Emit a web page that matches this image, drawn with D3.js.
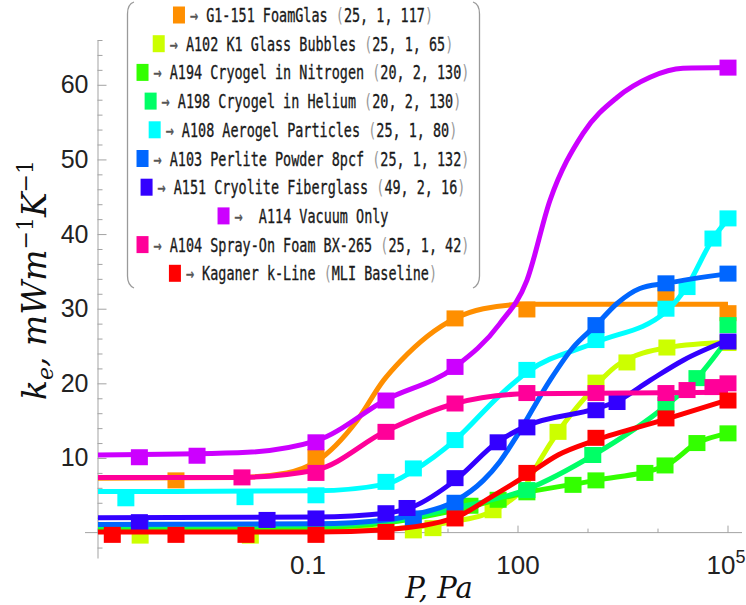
<!DOCTYPE html>
<html>
<head>
<meta charset="utf-8">
<script src="https://cdn.jsdelivr.net/npm/d3@7"></script>
<style>
body { margin: 0; background: #fff; }
</style>
</head>
<body>
<div id="chart"></div>
<script>
// series, in legend order
var colors = ["#ff8f00", "#ccff00", "#33ff00", "#00ff66", "#00ffff",
              "#0066ff", "#3300ff", "#cc00ff", "#ff0099", "#ff0000"];
var legendNames = ["G1-151 FoamGlas", "A102 K1 Glass Bubbles", "A194 Cryogel in Nitrogen",
                   "A198 Cryogel in Helium", "A108 Aerogel Particles", "A103 Perlite Powder 8pcf",
                   "A151 Cryolite Fiberglass", " A114 Vacuum Only", "A104 Spray-On Foam BX-265",
                   "Kaganer k-Line"];
var legendParams = ["25, 1, 117", "25, 1, 65", "20, 2, 130", "20, 2, 130", "25, 1, 80",
                    "25, 1, 132", "49, 2, 16", null, "25, 1, 42", "MLI Baseline"];

// measured points [P (Pa), k] and fitted curves [P, k]
var foamGlasPts = [[1.3e-3, 7.0], [0.13, 10.1], [12.6, 28.7], [134, 29.9], [1.3e4, 32.1], [1e5, 29.4]];
var foamGlasFit = [[1e-4, 7.3], [0.01, 7.4], [0.05, 8.0], [0.13, 9.5], [0.5, 15], [1.2, 20.4], [2.1, 23],
                   [12.6, 28.7], [32, 30], [134, 30.6], [1e5, 30.6]];

var bubblesPts = [[4e-4, -0.4], [0.015, -0.4], [3.2, 0.3], [6.1, 0.6], [44, 3.0], [373, 13.5],
                  [1300, 20.1], [3600, 22.8], [1.34e4, 24.8], [1e5, 25.4]];
var bubblesFit = [[1e-4, 0.3], [0.13, 0.3], [1.3, 0.5], [12.6, 1.5], [55, 3.4], [134, 6.6], [206, 9.7],
                  [373, 13.5], [968, 18.4], [2600, 22.4], [1.4e4, 24.8], [1e5, 25.5]];

var nitrogenPts = [[20.6, 3.6], [52, 4.4], [134, 5.4], [611, 6.4], [1300, 7.0], [6500, 8.0],
                   [1.26e4, 9.0], [3.6e4, 12.0], [1e5, 13.3]];
var nitrogenFit = [[1e-4, 0.5], [0.13, 0.7], [1.3, 1.3], [12.6, 3.0], [134, 5.4], [1300, 7.0],
                   [1.3e4, 9.0], [3.6e4, 12], [1e5, 13.3]];

var heliumPts = [[134, 5.7], [1170, 10.4], [1.3e4, 17.1], [3.6e4, 20.7], [1e5, 27.8]];
var heliumFit = [[1e-4, 0.9], [0.13, 1.0], [1.3, 1.5], [12.6, 3.3], [134, 5.8], [1200, 10.4],
                 [1.3e4, 17], [3.6e4, 20.7], [1e5, 26]];

var aerogelPts = [[2.5e-4, 4.6], [0.0126, 4.75], [0.13, 5.0], [1.3, 6.8], [3.2, 8.6], [12.6, 12.4],
                  [134, 21.8], [1300, 25.8], [1.3e4, 30.0], [2.6e4, 32.9], [6.1e4, 39.4], [1e5, 42.1]];
var aerogelFit = [[1e-4, 5.5], [0.13, 5.6], [1.3, 6.5], [3.2, 8.3], [12.6, 12.4], [55, 18.4], [134, 21.5],
                  [1300, 25.5], [1.3e4, 29.6], [2.6e4, 33], [6.1e4, 39.4], [1e5, 42]];

var perlitePts = [[4e-4, 1.0], [3.2, 1.9], [12.6, 4.0], [1300, 27.8], [1.3e4, 33.4], [1e5, 34.7]];
var perliteFit = [[1e-4, 1.1], [0.13, 1.2], [1.3, 1.7], [3.2, 2.4], [12.6, 4.2], [32, 7.0], [55, 9.5],
                  [97, 13], [286, 20.4], [611, 24.8], [1300, 27.8], [2600, 30.7], [5500, 32.7],
                  [1.3e4, 33.4], [1e5, 34.7]];

var fiberglassPts = [[3.9e-4, 1.4], [0.026, 1.7], [0.13, 1.9], [1.3, 2.6], [2.6, 3.3], [12.6, 7.3],
                     [52, 12.1], [134, 14.1], [1300, 16.4], [2600, 17.5], [1e5, 25.6]];
var fiberglassFit = [[1e-4, 2.0], [0.13, 2.1], [1.3, 2.6], [3.2, 3.5], [12.6, 7.0], [52, 12.2], [134, 14.3],
                     [1300, 16.6], [2600, 17.6], [7700, 20.4], [2.3e4, 23.1], [1e5, 25.8]];

var vacuumPts = [[3.9e-4, 10.1], [2.6e-3, 10.3], [0.13, 12.1], [1.3, 17.7], [12.6, 22.2], [1e5, 62.3]];
var vacuumFit = [[1e-4, 10.4], [0.01, 10.7], [0.13, 12.3], [1.3, 17.8], [12.6, 22.2], [55, 28], [134, 33.8],
                 [286, 44.5], [850, 53.5], [2600, 58.3], [7700, 61], [2.27e4, 62.2], [1e5, 62.3]];

var sprayFoamPts = [[0.0114, 7.4], [0.13, 8.0], [1.3, 13.5], [12.6, 17.3], [134, 18.7], [1300, 18.7],
                    [1.3e4, 18.7], [2.6e4, 19.1], [6.1e4, 19.5], [1e5, 20.0]];
var sprayFoamFit = [[1e-4, 7.4], [0.01, 7.4], [0.13, 8.4], [1.3, 13.6], [12.6, 17.3], [134, 18.6], [1e5, 18.8]];

var kaganerPts = [[1.6e-4, -0.3], [1.3e-3, -0.3], [0.013, -0.3], [0.13, -0.3], [1.3, 0.1], [12.6, 1.9],
                  [134, 8.0], [1300, 12.7], [1.3e4, 15.3], [1e5, 17.7]];
var kaganerFit = [[1e-4, 0.1], [0.13, 0.1], [1.3, 0.4], [12.6, 2.0], [40, 4.7], [134, 7.7], [373, 10.4],
                  [1300, 12.4], [1.3e4, 15.2], [1e5, 17.8]];

var yTicks = d3.range(-2, 67, 2);
var xTicks = [1e-4, 1e-3, 1e-2, 0.1, 1, 10, 100, 1e3, 1e4, 1e5];

var allPts = [foamGlasPts, bubblesPts, nitrogenPts, heliumPts, aerogelPts,
              perlitePts, fiberglassPts, vacuumPts, sprayFoamPts, kaganerPts];
var allFits = [foamGlasFit, bubblesFit, nitrogenFit, heliumFit, aerogelFit,
               perliteFit, fiberglassFit, vacuumFit, sprayFoamFit, kaganerFit];

var svgWidth = 746, svgHeight = 605;

var svg = d3.select("#chart").append("svg")
  .attr("width", svgWidth)
  .attr("height", svgHeight);

var x = d3.scaleLog().domain([1e-4, Math.pow(10, 5.2)]).range([98, 742]);
var y = d3.scaleLinear().domain([-3.4, 66]).range([558, 40]);

var axisColor = "#a3a3a3";

// y axis, ticks point into the plot
var yAxis = d3.axisLeft(y)
  .tickValues(yTicks)
  .tickSizeInner(-5)
  .tickSizeOuter(0)
  .tickPadding(9)
  .tickFormat(d => (d % 10 === 0 && d !== 0) ? d : "");

var yG = svg.append("g")
  .attr("transform", "translate(97.5,0)")
  .call(yAxis);
yG.select(".domain").attr("stroke", axisColor);
yG.selectAll(".tick line").attr("stroke", axisColor)
  .attr("x2", d => d % 10 === 0 ? 9 : 5);
yG.selectAll(".tick text")
  .attr("fill", "#222")
  .style("font-family", "'Liberation Sans', Arial, sans-serif")
  .style("font-size", "25px");

// x axis along k = 0
svg.append("line")
  .attr("x1", 85).attr("x2", 742)
  .attr("y1", y(0)).attr("y2", y(0))
  .attr("stroke", axisColor);

svg.append("g").selectAll("line")
  .data(xTicks)
  .enter()
  .append("line")
  .attr("x1", d => x(d)).attr("x2", d => x(d))
  .attr("y1", y(0))
  .attr("y2", d => ([0.1, 100, 1e5].indexOf(d) >= 0) ? y(0) - 7 : y(0) - 4)
  .attr("stroke", axisColor);

var xLab = svg.append("g")
  .style("font-family", "'Liberation Sans', Arial, sans-serif")
  .style("font-size", "26px")
  .attr("fill", "#222")
  .attr("text-anchor", "middle");
xLab.append("text").attr("x", x(0.1)).attr("y", 574).text("0.1");
xLab.append("text").attr("x", x(100)).attr("y", 574).text("100");
var t5 = xLab.append("text").attr("x", x(1e5) - 2).attr("y", 574);
t5.append("tspan").text("10");
t5.append("tspan").attr("dy", -11).style("font-size", "18px").text("5");

// axis titles
svg.append("text")
  .attr("x", 439).attr("y", 598)
  .attr("text-anchor", "middle")
  .style("font-family", "'DejaVu Serif', serif")
  .style("font-style", "italic")
  .style("font-size", "29px")
  .attr("fill", "#111")
  .text("P, Pa");

var yTitle = svg.append("text")
  .attr("transform", "translate(46,280) rotate(-90)")
  .attr("text-anchor", "middle")
  .style("font-family", "'DejaVu Serif', serif")
  .style("font-style", "italic")
  .style("font-size", "33px")
  .attr("fill", "#111");
yTitle.append("tspan").text("k");
yTitle.append("tspan").attr("dy", 7).style("font-size", "22px").text("e");
yTitle.append("tspan").attr("dy", -7).text(", mWm");
yTitle.append("tspan").attr("dy", -13).style("font-size", "22px").style("font-style", "normal").text("\u22121");
yTitle.append("tspan").attr("dy", 13).text("K");
yTitle.append("tspan").attr("dy", -13).style("font-size", "22px").style("font-style", "normal").text("\u22121");

// curves and markers
var line = d3.line()
  .x(d => x(d[0]))
  .y(d => y(d[1]))
  .curve(d3.curveMonotoneX);

var plot = svg.append("g");
allFits.forEach(function(fit, i) {
  var g = plot.append("g");
  g.append("path")
    .datum(fit)
    .attr("d", line)
    .attr("fill", "none")
    .attr("stroke", colors[i])
    .attr("stroke-width", 5);
  g.selectAll("rect")
    .data(allPts[i])
    .enter()
    .append("rect")
    .attr("x", d => x(d[0]) - 8.5)
    .attr("y", d => y(d[1]) - 8)
    .attr("width", 17)
    .attr("height", 16)
    .attr("fill", colors[i]);
});

// legend frame (bracket shaped)
var frame = svg.append("g")
  .attr("fill", "none")
  .attr("stroke", "#9a9a9a")
  .attr("stroke-width", 1.3);
frame.append("path").attr("d", "M134,2 Q127.5,4 127.5,14 L127.5,276 Q127.5,285 134,288");
frame.append("path").attr("d", "M473,2 Q479.5,4 479.5,14 L479.5,276 Q479.5,285 473,288");

var sx = 0.69;
var legend = svg.append("g")
  .style("font-family", "'DejaVu Sans Mono', monospace")
  .style("font-size", "19.5px");

legendNames.forEach(function(name, i) {
  var cy = 15 + i * 28.7;
  var row = legend.append("g");
  var txt = row.append("text")
    .style("white-space", "pre")
    .attr("y", 7)
    .attr("stroke-width", 0.35);
  txt.append("tspan").attr("fill", "#555").attr("stroke", "#555").text("\u2192 ");
  txt.append("tspan").attr("fill", "#1a1a1a").attr("stroke", "#1a1a1a").text(name);
  if (legendParams[i] !== null) {
    txt.append("tspan").text(" ");
    txt.append("tspan").attr("fill", "#999").text("(");
    txt.append("tspan").attr("fill", "#1a1a1a").attr("stroke", "#1a1a1a").text(legendParams[i]);
    txt.append("tspan").attr("fill", "#999").text(")");
  }
  var tw = txt.node().getComputedTextLength() * sx;
  var total = 12 + 5 + tw;
  var left = 303 - total / 2;
  row.append("rect")
    .attr("x", left).attr("y", cy - 8.5)
    .attr("width", 12).attr("height", 17)
    .attr("fill", colors[i]);
  txt.attr("transform", "translate(" + (left + 17) + "," + cy + ") scale(" + sx + ",1)");
});
</script>
</body>
</html>
